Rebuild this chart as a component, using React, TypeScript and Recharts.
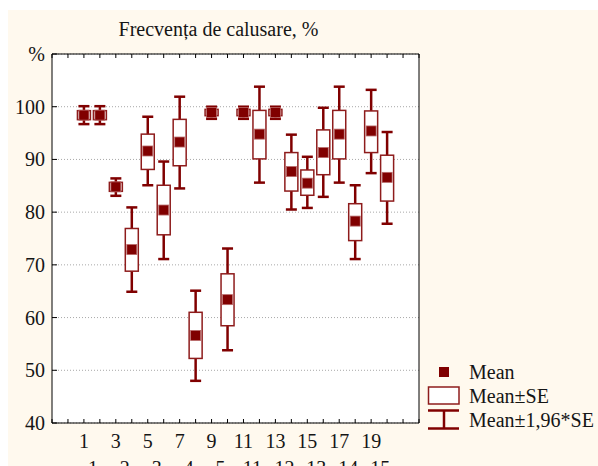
import React from 'react';
import { ComposedChart, Bar, XAxis, YAxis, CartesianGrid } from 'recharts';

// ---- data ----
const categories = [1, 2, 3, 4, 5, 6, 7, 8, 9, 10, 11, 12, 13, 14, 15, 16, 17, 18, 19, 20];
const means = [98.4, 98.4, 84.8, 72.9, 91.6, 80.4, 93.3, 56.6, 98.9, 63.4, 98.9, 94.8, 98.9, 87.7, 85.5, 91.3, 94.8, 78.3, 95.4, 86.6];
const seLow = [97.55, 97.55, 83.95, 68.8, 88.1, 75.7, 88.8, 52.25, 98.3, 58.45, 98.3, 90.1, 98.3, 84.0, 83.2, 87.1, 90.1, 74.6, 91.3, 82.1];
const seHigh = [99.25, 99.25, 85.65, 76.9, 94.8, 85.1, 97.6, 61.0, 99.5, 68.3, 99.5, 99.3, 99.5, 91.3, 88.0, 95.6, 99.3, 81.6, 99.2, 90.8];
const ciLow = [96.7, 96.7, 83.1, 64.9, 85.1, 71.1, 84.5, 48.0, 97.7, 53.8, 97.7, 85.6, 97.7, 80.5, 80.8, 82.9, 85.6, 71.1, 87.4, 77.8];
const ciHigh = [100.1, 100.1, 86.4, 80.9, 98.1, 89.6, 101.9, 65.1, 100.0, 73.1, 100.0, 103.8, 100.0, 94.7, 90.5, 99.8, 103.8, 85.1, 103.2, 95.2];

const yTicks = [40, 50, 60, 70, 80, 90, 100, 110];
const yTickLabels = ['40', '50', '60', '70', '80', '90', '100', '%'];
const xUnitTicks = [-1, 0, 1, 2, 3, 4, 5, 6, 7, 8, 9, 10, 11, 12, 13, 14, 15, 16, 17, 18, 19, 20, 21, 22];
const xLabelTicks = [1, 3, 5, 7, 9, 11, 13, 15, 17, 19];
const xSubLabels = ['1', '2', '3', '4', '5', '11', '12', '13', '14', '15'];
const title = 'Frecvența de calusare, %';
const legendLabels = ['Mean', 'Mean±SE', 'Mean±1,96*SE'];

const data = categories.map((c, i) => ({
  x: c,
  range: [ciLow[i], ciHigh[i]],
  mean: means[i],
  seLow: seLow[i],
  seHigh: seHigh[i],
  ciLow: ciLow[i],
  ciHigh: ciHigh[i],
}));

const FONT = "'Liberation Serif', 'Times New Roman', serif";
const DARK = '#800000';
const BOXSTROKE = '#8E1C1C';
const TEXT = '#151515';

function BoxShape(props: any) {
  const { x, y, width, height, payload } = props;
  if (x == null || y == null || !payload) return null;
  const top = Math.min(y, y + height);
  const bot = Math.max(y, y + height);
  const hi = payload.ciHigh;
  const lo = payload.ciLow;
  const k = (bot - top) / (hi - lo);
  const py = (v: number) => top + (hi - v) * k;
  const cx = x + width / 2;
  const capHalf = 5.5;
  const boxHalf = 6.5;
  const yHi = py(payload.seHigh);
  const yLo = py(payload.seLow);
  const ym = py(payload.mean);
  return (
    <g>
      <line x1={cx} x2={cx} y1={py(lo)} y2={py(hi)} stroke={DARK} strokeWidth={2.5} />
      <line x1={cx - capHalf} x2={cx + capHalf} y1={py(hi)} y2={py(hi)} stroke={DARK} strokeWidth={2.5} />
      <line x1={cx - capHalf} x2={cx + capHalf} y1={py(lo)} y2={py(lo)} stroke={DARK} strokeWidth={2.5} />
      <rect x={cx - boxHalf} y={yHi} width={boxHalf * 2} height={Math.max(0.5, yLo - yHi)} fill="#fff" stroke={BOXSTROKE} strokeWidth={1.5} />
      <rect x={cx - 5} y={ym - 5} width={10} height={10} fill={DARK} stroke="#B86868" strokeWidth={0.8} />
    </g>
  );
}

function LeftTick(props: any) {
  const { x, y, payload } = props;
  const idx = yTicks.indexOf(payload.value);
  return (
    <g>
      <line x1={x} x2={x + 5} y1={y} y2={y} stroke="#000" strokeWidth={1} />
      <text x={x - 7} y={y + 7} textAnchor="end" fontFamily={FONT} fontSize={20} fill={TEXT}>
        {idx >= 0 ? yTickLabels[idx] : ''}
      </text>
    </g>
  );
}

function RightTick(props: any) {
  const { x, y } = props;
  return <line x1={x - 5} x2={x} y1={y} y2={y} stroke="#000" strokeWidth={1} />;
}

function BottomTick(props: any) {
  const { x, y, payload } = props;
  const v = payload.value;
  const li = xLabelTicks.indexOf(v);
  return (
    <g>
      <line x1={x} x2={x} y1={y} y2={y - 4} stroke="#000" strokeWidth={1} />
      {li >= 0 && (
        <text x={x} y={y + 25} textAnchor="middle" fontFamily={FONT} fontSize={20} fill={TEXT}>
          {String(v)}
        </text>
      )}
      {li >= 0 && (
        <text x={x + 9} y={y + 52} textAnchor="middle" fontFamily={FONT} fontSize={20} fill={TEXT}>
          {xSubLabels[li]}
        </text>
      )}
    </g>
  );
}

function TopTick(props: any) {
  const { x, y } = props;
  return <line x1={x} x2={x} y1={y} y2={y + 4} stroke="#000" strokeWidth={1} />;
}

export default function App() {
  const W = 590;
  const H = 458;
  return (
    <div
      style={{
        position: 'fixed',
        left: 8,
        top: 8,
        width: W,
        height: H,
        background: 'linear-gradient(#ffffff 0px, #ffffff 2px, #FFF9EE 2px)',
      }}
    >
      <ComposedChart
        width={W}
        height={H}
        data={data}
        margin={{ top: 36, right: 169, bottom: 0, left: 0 }}
      >
        <CartesianGrid vertical={false} stroke="#a8a8a8" strokeDasharray="1 2" fill="#ffffff" />
        <XAxis
          dataKey="x"
          type="number"
          domain={[-1, 22]}
          ticks={xUnitTicks}
          interval={0}
          height={43}
          tickLine={false}
          tickSize={0}
          tickMargin={0}
          axisLine={{ stroke: '#000', strokeWidth: 1 }}
          tick={<BottomTick />}
        />
        <XAxis
          xAxisId="top"
          orientation="top"
          dataKey="x"
          type="number"
          domain={[-1, 22]}
          ticks={xUnitTicks}
          interval={0}
          height={10}
          tickLine={false}
          tickSize={0}
          tickMargin={0}
          axisLine={{ stroke: '#000', strokeWidth: 1 }}
          tick={<TopTick />}
        />
        <YAxis
          type="number"
          domain={[40, 110]}
          ticks={yTicks}
          interval={0}
          width={44}
          tickLine={false}
          tickSize={0}
          tickMargin={0}
          axisLine={{ stroke: '#000', strokeWidth: 1 }}
          tick={<LeftTick />}
        />
        <YAxis
          yAxisId="right"
          orientation="right"
          type="number"
          domain={[40, 110]}
          ticks={yTicks}
          interval={0}
          width={10}
          tickLine={false}
          tickSize={0}
          tickMargin={0}
          axisLine={{ stroke: '#000', strokeWidth: 1 }}
          tick={<RightTick />}
        />
        <Bar dataKey="range" barSize={14} isAnimationActive={false} shape={<BoxShape />} />
      </ComposedChart>
      <svg
        width={W}
        height={H}
        style={{ position: 'absolute', left: 0, top: 0, pointerEvents: 'none' }}
      >
        <text x={210.5} y={28} textAnchor="middle" fontFamily={FONT} fontSize={20} fill={TEXT}>
          {title}
        </text>
        <rect x={431} y={359} width={10} height={10} fill={DARK} />
        <text x={461} y={371} fontFamily={FONT} fontSize={20} fill={TEXT}>{legendLabels[0]}</text>
        <rect x={420.5} y={379} width={30.5} height={17} fill="#fff" stroke={BOXSTROKE} strokeWidth={1.5} />
        <text x={461} y={395.3} fontFamily={FONT} fontSize={20} fill={TEXT}>{legendLabels[1]}</text>
        <line x1={420} x2={451} y1={402.5} y2={402.5} stroke={DARK} strokeWidth={2.5} />
        <line x1={420} x2={451} y1={420.5} y2={420.5} stroke={DARK} strokeWidth={2.5} />
        <line x1={436} x2={436} y1={402.5} y2={420.5} stroke={DARK} strokeWidth={2.5} />
        <text x={461} y={418.7} fontFamily={FONT} fontSize={20} fill={TEXT}>{legendLabels[2]}</text>
      </svg>
    </div>
  );
}
